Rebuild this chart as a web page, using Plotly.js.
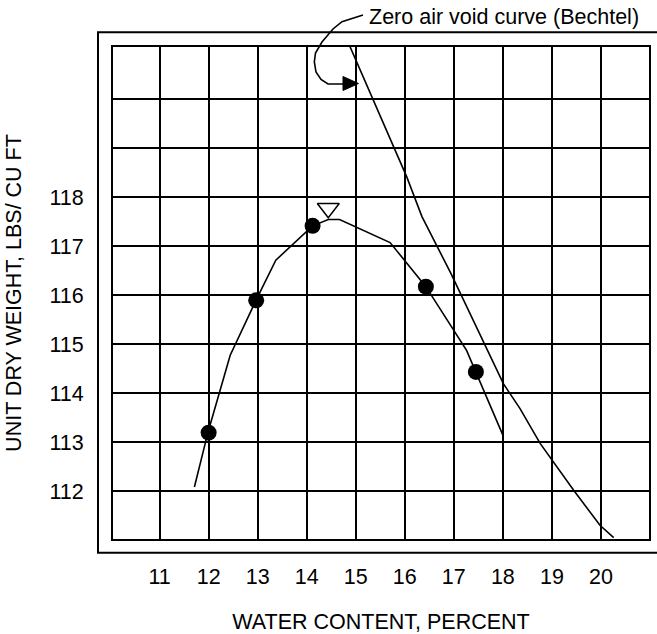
<!DOCTYPE html>
<html>
<head>
<meta charset="utf-8">
<script src="https://cdn.plot.ly/plotly-3.0.1.min.js"></script>
<style>html,body{margin:0;padding:0;background:#fff;}</style>
</head>
<body>
<div id="chart" style="width:657px;height:634px;"></div>
<script>
// ---- data ----
const xTickVals = [11, 12, 13, 14, 15, 16, 17, 18, 19, 20];
const xTickText = ['11', '12', '13', '14', '15', '16', '17', '18', '19', '20'];
const yTickVals = [112, 113, 114, 115, 116, 117, 118, 119, 120];
const yTickText = ['112', '113', '114', '115', '116', '117', '118', '', ''];

// test points (water content %, unit dry weight)
const testWater = [12.0, 12.97, 14.12, 16.43, 17.45];
const testDry = [113.2, 115.9, 117.42, 116.18, 114.44];

// fitted compaction curve
const curveWater = [11.71, 11.99, 12.44, 12.97, 13.37, 14.12, 14.44, 14.67, 15.70, 16.43, 17.26, 17.45, 18.0];
const curveDry = [112.09, 113.22, 114.78, 115.91, 116.72, 117.42, 117.55, 117.55, 117.08, 116.18, 114.88, 114.44, 113.15];

// zero air void curve (Bechtel)
const zavWater = [14.86, 16.04, 16.35, 16.94, 18.01, 18.35, 18.76, 19.44, 19.98, 20.26];
const zavDry = [121.13, 118.42, 117.61, 116.45, 114.2, 113.69, 112.98, 112.03, 111.31, 111.06];

// maximum dry density marker
const maxWater = [14.44];
const maxDry = [117.78];

// ---- layout helpers (decoration only) ----
const ML = 113, MR = 8, MT = 47, MB = 95, W = 657, H = 634;
const PW = W - ML - MR, PH = H - MT - MB;
const px = (x) => (x - ML) / PW;
const py = (y) => (H - MB - y) / PH;
function pathFrom(pts, close) {
  return pts.map((p, i) => (i ? 'L' : 'M') + px(p[0]).toFixed(4) + ',' + py(p[1]).toFixed(4)).join(' ') + (close ? ' Z' : '');
}
const leaderPts = [[363, 15], [342, 21.7], [333, 29], [322, 42], [315.5, 53], [314.3, 62], [316, 72], [321, 79.5], [328, 84], [345, 84]];
const headPts = [[358.5, 83.5], [343, 76.5], [343, 90.5]];

const FS = 21.5;

const traces = [
  {x: curveWater, y: curveDry, mode: 'lines', line: {color: 'black', width: 1.6}, hoverinfo: 'skip'},
  {x: zavWater, y: zavDry, mode: 'lines', line: {color: 'black', width: 1.6}, hoverinfo: 'skip'},
  {x: testWater, y: testDry, mode: 'markers', marker: {color: 'black', size: 16, symbol: 'circle'}},
  {x: maxWater, y: maxDry, mode: 'markers', marker: {color: 'black', size: 19, symbol: 'triangle-down-open', line: {color: 'black', width: 1.5}}}
];

const axisCommon = {
  showgrid: true, gridcolor: 'black', gridwidth: 2,
  showline: true, linecolor: 'black', linewidth: 2, mirror: true,
  zeroline: false, ticks: '', tickmode: 'array', fixedrange: true,
  tickfont: {size: FS, color: 'black'}
};

const layout = {
  width: W, height: H,
  margin: {l: ML, r: MR, t: MT, b: MB, pad: 0},
  paper_bgcolor: 'white', plot_bgcolor: 'white',
  font: {family: 'Liberation Sans, Arial, sans-serif', size: FS, color: 'black'},
  showlegend: false,
  xaxis: Object.assign({}, axisCommon, {
    range: [10.05, 20.98], tickvals: xTickVals, ticktext: xTickText,
    ticklabelstandoff: 17,
    title: {text: 'WATER CONTENT, PERCENT', standoff: 35, font: {size: FS, color: 'black'}}
  }),
  yaxis: Object.assign({}, axisCommon, {
    range: [111.03, 121.07], tickvals: yTickVals, ticktext: yTickText,
    ticklabelstandoff: 23,
    title: {text: 'UNIT DRY WEIGHT, LBS/ CU FT', standoff: 22, font: {size: FS, color: 'black'}}
  }),
  shapes: [
    {type: 'rect', xref: 'paper', yref: 'paper', x0: px(98), x1: 1.2, y0: py(552.7), y1: py(32.3), line: {color: 'black', width: 2}, fillcolor: 'rgba(0,0,0,0)'},
    {type: 'path', xref: 'paper', yref: 'paper', path: pathFrom(leaderPts, false), line: {color: 'black', width: 1.6}},
    {type: 'path', xref: 'paper', yref: 'paper', path: pathFrom(headPts, true), line: {color: 'black', width: 1}, fillcolor: 'black'}
  ],
  annotations: [
    {text: 'Zero air void curve (Bechtel)', xref: 'paper', yref: 'paper', x: px(367), y: py(17), xanchor: 'left', yanchor: 'middle', showarrow: false, font: {size: FS, color: 'black'}}
  ]
};

Plotly.newPlot('chart', traces, layout, {displayModeBar: false, staticPlot: true});
</script>
</body>
</html>
